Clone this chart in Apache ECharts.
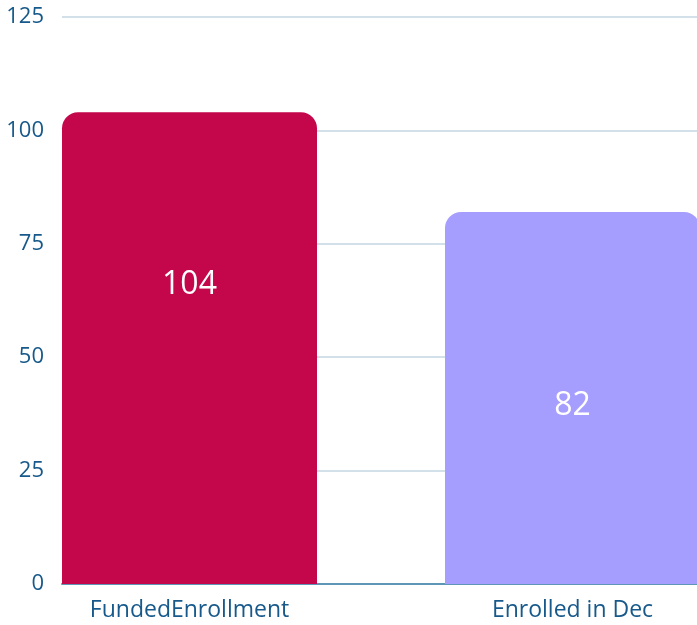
<!DOCTYPE html>
<html>
<head>
<meta charset="utf-8">
<style>html,body{margin:0;padding:0;background:#fff;}#chart{width:697px;height:625px;}</style>
<script src="https://cdn.jsdelivr.net/npm/echarts@6/dist/echarts.min.js"></script>
</head>
<body>
<div id="chart"></div>
<script>
const categories = ['FundedEnrollment', 'Enrolled in Dec'];
const values = [104, 82];
const barColors = ['#C4074B', '#A69EFF'];
const yTicks = { min: 0, max: 125, interval: 25 };

const labelPos = [['50%', '36.6%'], ['50%', '52%']];
const font = '"Open Sans", "Noto Sans", sans-serif';
const textColor = '#17598A';

const chart = echarts.init(document.getElementById('chart'), null, { renderer: 'canvas' });
chart.setOption({
  animation: false,
  grid: [
    { left: 62, right: 0, top: 17, bottom: 41 },
    { left: 189.5, right: 124.5, top: 17, bottom: 41 }
  ],
  xAxis: [
    { gridIndex: 0, type: 'category', data: categories,
      axisLine: { show: true, lineStyle: { color: '#5E97B5', width: 2 } },
      axisTick: { show: false }, axisLabel: { show: false } },
    { gridIndex: 1, type: 'category', data: categories, boundaryGap: false,
      axisLine: { show: false }, axisTick: { show: false },
      axisLabel: { color: textColor, fontSize: 23, fontFamily: font, margin: 15 } }
  ],
  yAxis: [
    { gridIndex: 0, type: 'value', min: yTicks.min, max: yTicks.max, interval: yTicks.interval,
      axisLine: { show: false }, axisTick: { show: false },
      axisLabel: { color: textColor, fontSize: 22, fontFamily: font, margin: 18 },
      splitLine: { lineStyle: { color: '#C3D6E2', width: 1.5 } } },
    { gridIndex: 1, type: 'value', min: yTicks.min, max: yTicks.max, interval: yTicks.interval,
      show: false, splitLine: { show: false } }
  ],
  series: [{
    type: 'bar',
    xAxisIndex: 1, yAxisIndex: 1,
    barWidth: 255,
    clip: false,
    data: values.map((v, i) => ({
      value: v,
      itemStyle: { color: barColors[i] },
      label: { position: labelPos[i] }
    })),
    itemStyle: { borderRadius: [16, 16, 0, 0] },
    label: { show: true, color: '#fff', fontSize: 32, fontFamily: font, align: 'center', verticalAlign: 'middle' }
  }]
});
</script>
</body>
</html>
